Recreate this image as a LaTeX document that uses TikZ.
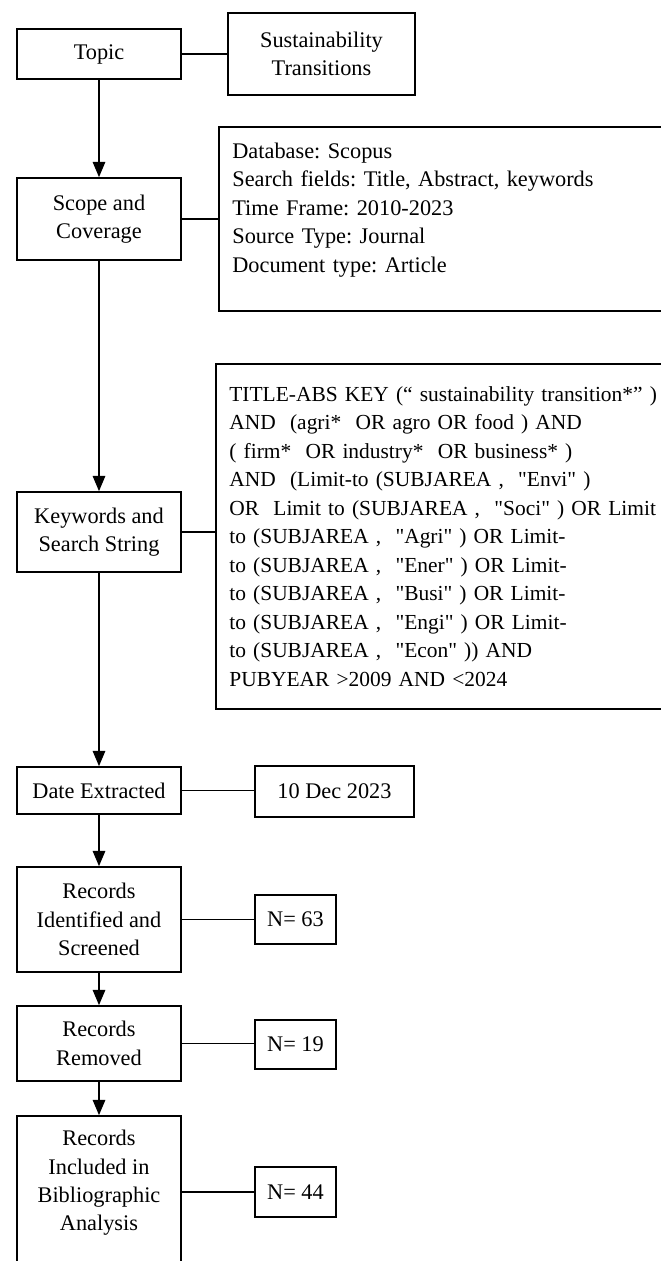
\documentclass[tikz,border=0pt]{standalone}
\usepackage{fontspec}
\setmainfont{Liberation Serif}[Ligatures=TeXOff]
\usetikzlibrary{arrows}

\begin{document}
\begin{tikzpicture}[
        box/.style={draw, line width=1pt, align=center, inner sep=0pt, font=\fontsize{12.7}{16.2}\selectfont\frenchspacing},
        list/.style={box, align=left, anchor=west, inner xsep=0.27cm, text width=10.00cm},
        flow/.style={line width=1pt, -triangle 45},
        link/.style={line width=1pt}]
            \useasboundingbox                                             (0.00, 0.00) rectangle (13.22, 25.22);
            \clip                                                         (0.00, 0.00) rectangle (13.22, 25.22);
            \node[box, minimum width=3.28cm, minimum height=1.00cm] (topic)   at (1.98, 24.14) {Topic};
            \node[box, minimum width=3.74cm, minimum height=1.64cm] (sust)    at (6.43, 24.14) {Sustainability\\Transitions};
            \node[box, minimum width=3.28cm, minimum height=1.64cm] (scope)   at (1.98, 20.84) {Scope and\\Coverage};
            \node[list, minimum height=3.68cm]                      (db)      at (4.36, 20.84)
                 {Database: Scopus\\Search fields: Title, Abstract, keywords\\Time Frame: 2010-2023\\Source Type: Journal\\Document type: Article\\[-8pt]\strut};
            \node[box, minimum width=3.28cm, minimum height=1.60cm] (kw)      at (1.98, 14.58) {Keywords and\\Search String};
            \node[list, minimum height=6.90cm, font=\fontsize{12.2}{16.2}\selectfont\frenchspacing] (qry) at (4.30, 14.49)
                 {TITLE-ABS KEY (“ sustainability transition*” )\\
                  AND~ (agri*~ OR agro OR food ) AND\\
                  ( firm*~ OR industry*~ OR business* )\\
                  AND~ (Limit-to (SUBJAREA ,~ "Envi" )\\
                  OR~ Limit to (SUBJAREA ,~ "Soci" ) OR Limit\\
                  to (SUBJAREA ,~ "Agri" ) OR Limit-\\
                  to (SUBJAREA ,~ "Ener" ) OR Limit-\\
                  to (SUBJAREA ,~ "Busi" ) OR Limit-\\
                  to (SUBJAREA ,~ "Engi" ) OR Limit-\\
                  to (SUBJAREA ,~ "Econ" )) AND\\
                  PUBYEAR >2009 AND <2024};
            \node[box, minimum width=3.28cm, minimum height=0.94cm] (date)    at (1.98, 9.41) {Date Extracted};
            \node[box, minimum width=3.18cm, minimum height=1.02cm] (dec)     at (6.69, 9.39) {10 Dec 2023};
            \node[box, minimum width=3.28cm, minimum height=2.10cm] (ident)   at (1.98, 6.83) {Records\\Identified and\\Screened};
            \node[box, minimum width=1.62cm, minimum height=0.98cm] (n63)     at (5.91, 6.83) {N= 63};
            \node[box, minimum width=3.28cm, minimum height=1.50cm] (removed) at (1.98, 4.35) {Records\\Removed};
            \node[box, minimum width=1.62cm, minimum height=0.98cm] (n19)     at (5.91, 4.33) {N= 19};
            \node[box, minimum width=3.28cm, minimum height=3.04cm] (incl)    at (1.98, 1.38) {Records\\Included in\\Bibliographic\\Analysis\\[-8pt]\strut};
            \node[box, minimum width=1.62cm, minimum height=1.00cm] (n44)     at (5.91, 1.38) {N= 44};
            \draw[flow] (topic)   -- (scope);
            \draw[flow] (scope)   -- (kw);
            \draw[flow] (kw)      -- (date);
            \draw[flow] (date)    -- (ident);
            \draw[flow] (ident)   -- (removed);
            \draw[flow] (removed) -- (incl);
            \draw[link] (topic.east)   -- (topic.east -| sust.west);
            \draw[link] (scope.east)   -- (scope.east -| db.west);
            \draw[link] (kw.east)      -- (kw.east -| qry.west);
            \draw[link] (date.east)    -- (date.east -| dec.west);
            \draw[link] (ident.east)   -- (ident.east -| n63.west);
            \draw[link] (removed.east) -- (removed.east -| n19.west);
            \draw[link] (incl.east)    -- (incl.east -| n44.west);
        \end{tikzpicture}
\end{document}
